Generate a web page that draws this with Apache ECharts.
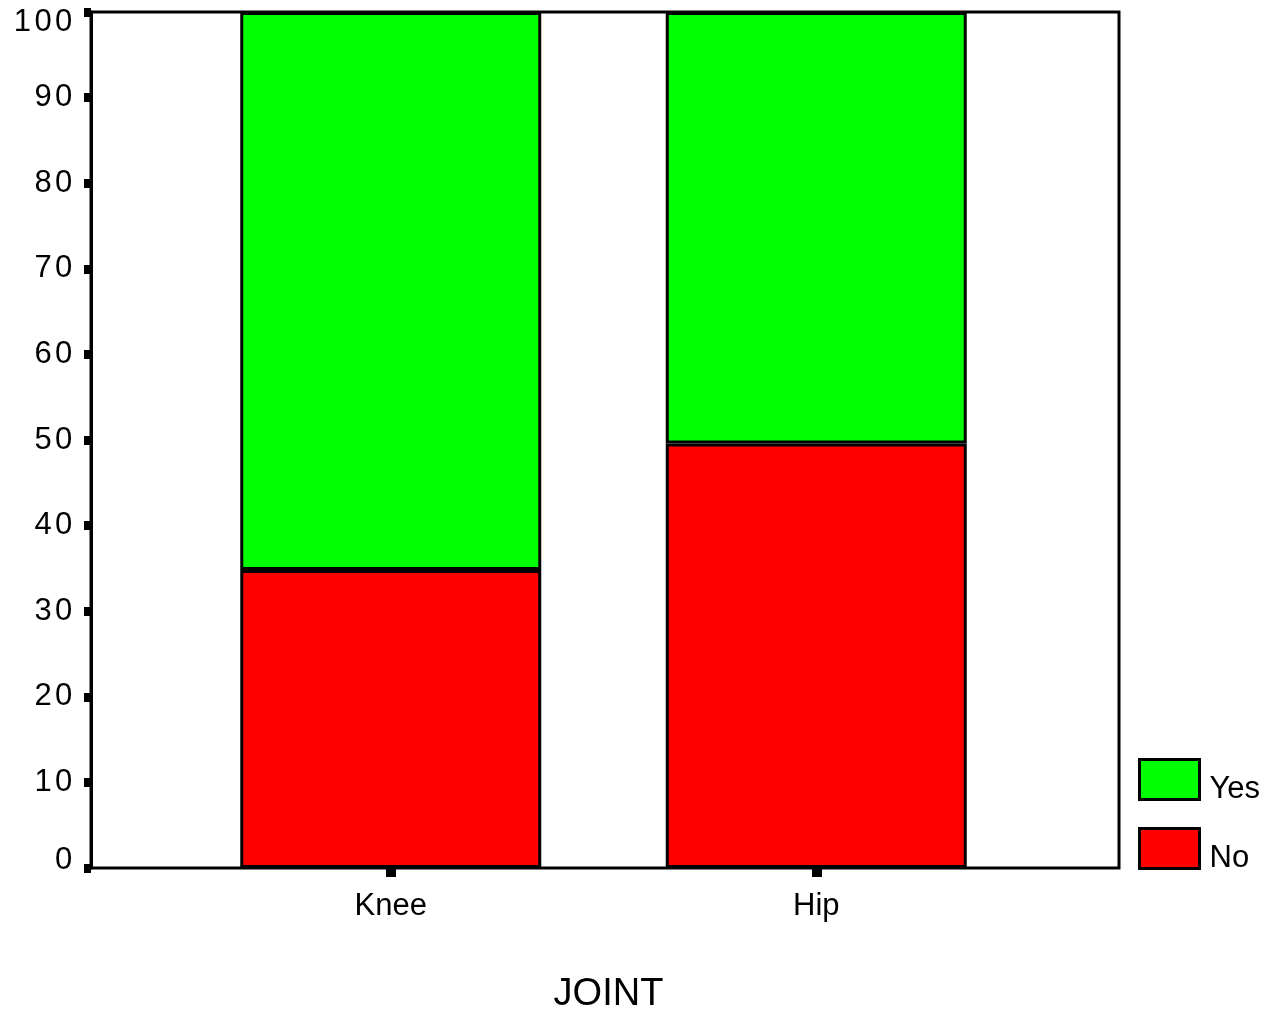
<!DOCTYPE html>
<html>
<head>
<meta charset="utf-8">
<script src="https://cdn.jsdelivr.net/npm/echarts@6/dist/echarts.min.js"></script>
<style>html,body{margin:0;padding:0;background:#fff}#c{width:1270px;height:1013px}</style>
</head>
<body>
<div id="c"></div>
<script>
const categories = ['Knee', 'Hip'];
const noValues = [34.8, 49.6];
const yesValues = [65.2, 50.4];
const seriesNames = ['Yes', 'No'];
const axisTitle = 'JOINT';

const FONT = '"Liberation Sans", Arial, sans-serif';
const chart = echarts.init(document.getElementById('c'));
chart.setOption({
  backgroundColor: '#fff',
  animation: false,
  grid: [
    {left: 91, right: 151, top: 12, bottom: 145, outerBoundsMode: 'none', containLabel: false, show: true, borderColor: '#000', borderWidth: 3, backgroundColor: 'transparent', z: 10},
    {left: 178, right: 241, top: 12, bottom: 145, outerBoundsMode: 'none', containLabel: false}
  ],
  legend: {
    orient: 'vertical', left: 1138, top: 758, padding: 0,
    icon: 'rect',
    itemWidth: 60, itemHeight: 40, itemGap: 22,
    data: seriesNames,
    formatter: '{a|{name}}',
    textStyle: {fontFamily: FONT, fontSize: 31, color: '#000',
      rich: {a: {fontFamily: FONT, fontSize: 31, color: '#000', padding: [20, 0, 0, 5]}}},
    itemStyle: {borderColor: '#000', borderWidth: 3}
  },
  xAxis: [
    {type: 'value', gridIndex: 0, show: false, min: 0, max: 1},
    {type: 'category', gridIndex: 1, data: categories, boundaryGap: true,
     axisLine: {show: false},
     axisTick: {show: true, alignWithLabel: true, length: 9, lineStyle: {color: '#000', width: 10}},
     axisLabel: {fontFamily: FONT, fontSize: 31, color: '#000', margin: 23},
     name: axisTitle, nameLocation: 'middle', nameGap: 108,
     nameTextStyle: {fontFamily: FONT, fontSize: 38, color: '#000', padding: [0, 0, 0, 10]}}
  ],
  yAxis: [
    {type: 'value', gridIndex: 0, min: 0, max: 100, interval: 10,
     axisLine: {show: true, lineStyle: {color: '#000', width: 3}},
     axisTick: {show: true, length: 7, lineStyle: {color: '#000', width: 9}},
     splitLine: {show: false},
     axisLabel: {margin: 17, color: '#000',
       formatter: v => {
         const s = v === 100 ? 't' : (v === 0 ? 'b' : 'd');
         return String(v).split('').map(c => '{' + s + '|' + c + '}').join('');
       },
       rich: {
         d: {fontFamily: FONT, fontSize: 31, color: '#000', padding: [0, 1.7, 0, 1.7]},
         t: {fontFamily: FONT, fontSize: 31, color: '#000', padding: [20, 1.7, 0, 1.7]},
         b: {fontFamily: FONT, fontSize: 31, color: '#000', padding: [0, 1.7, 16, 1.7]}
       }}},
    {type: 'value', gridIndex: 1, min: 0, max: 100, show: false}
  ],
  series: [
    {name: 'No', type: 'bar', stack: 'a', xAxisIndex: 1, yAxisIndex: 1, barWidth: 301, data: noValues,
     itemStyle: {color: '#ff0000', borderColor: '#000', borderWidth: 3}},
    {name: 'Yes', type: 'bar', stack: 'a', xAxisIndex: 1, yAxisIndex: 1, barWidth: 301, data: yesValues,
     itemStyle: {color: '#00ff00', borderColor: '#000', borderWidth: 3}}
  ]
});
</script>
</body>
</html>
